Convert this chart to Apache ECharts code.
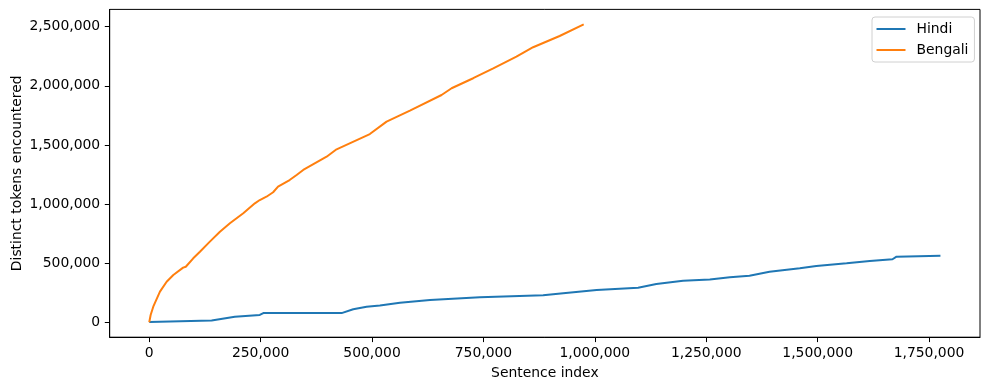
<!DOCTYPE html>
<html>
<head>
<meta charset="utf-8">
<script src="https://cdn.jsdelivr.net/npm/echarts@6/dist/echarts.min.js"></script>
<style>html,body{margin:0;padding:0;background:#fff}#c{width:989px;height:390px}</style>
</head>
<body>
<div id="c"></div>
<script>
const hindiX = [0, 140000, 192000, 248000, 256000, 431700, 457700, 487700, 517600, 562600, 630000, 742000, 884000, 929000, 1004000, 1097000, 1138000, 1198000, 1258000, 1303000, 1347000, 1392000, 1460000, 1497000, 1565000, 1617000, 1668000, 1677000, 1775600];
const hindiY = [3000, 15000, 47000, 62000, 78000, 78000, 110000, 132000, 142000, 166000, 189000, 211000, 228000, 245000, 273000, 293000, 324000, 352000, 362000, 381000, 394000, 428000, 457000, 476000, 499000, 518000, 533000, 555000, 563000];
const bengaliX = [0, 3100, 9000, 24000, 39000, 54000, 76000, 82000, 86000, 98700, 113700, 136000, 158600, 181000, 211000, 237000, 248000, 263000, 278000, 289000, 315000, 330700, 345500, 398000, 420400, 495000, 532600, 585000, 656000, 678500, 727000, 772000, 824000, 861500, 921000, 975000];
const bengaliY = [0, 62000, 132000, 259000, 343000, 400000, 462000, 470000, 478000, 541000, 597000, 682000, 766000, 837000, 922000, 1006000, 1034000, 1062000, 1100000, 1147000, 1203000, 1246000, 1288000, 1400000, 1463000, 1592000, 1697000, 1790000, 1922000, 1979000, 2064000, 2148000, 2246000, 2326000, 2421000, 2520000];
const xTicks = [0, 250000, 500000, 750000, 1000000, 1250000, 1500000, 1750000];
const yTicks = [0, 500000, 1000000, 1500000, 2000000, 2500000];

const pairs = (xs, ys) => xs.map((x, i) => [x, ys[i]]);
const fmt = v => Math.round(v).toString().replace(/\B(?=(\d{3})+(?!\d))/g, ',');
const FONT = 'DejaVu Sans';
const FS = 13.9;

const chart = echarts.init(document.getElementById('c'), null, {renderer: 'canvas'});
chart.setOption({
  animation: false,
  backgroundColor: '#fff',
  grid: {left: 109.7, right: 9, top: 9.4, bottom: 52.8, show: true, borderColor: '#000', borderWidth: 1, containLabel: false, outerBoundsMode: 'none'},
  legend: {
    orient: 'vertical', left: 872, top: 17,
    itemWidth: 29, itemHeight: 14, itemGap: 7,
    padding: [5, 6, 5, 3.5],
    borderColor: '#d0d0d0', borderWidth: 1, borderRadius: 3,
    backgroundColor: 'rgba(255,255,255,0.8)',
    itemStyle: {opacity: 0},
    textStyle: {fontFamily: FONT, fontSize: FS, color: '#000', padding: [0, 0, 0, 6]},
    data: ['Hindi', 'Bengali']
  },
  xAxis: {
    type: 'value', min: -88780, max: 1864380,
    name: 'Sentence index', nameLocation: 'middle', nameGap: 29, nameMoveOverlap: false,
    nameTextStyle: {fontFamily: FONT, fontSize: FS, color: '#000'},
    axisLine: {show: true, onZero: false, lineStyle: {color: '#000', width: 1}},
    splitLine: {show: false},
    axisTick: {show: true, inside: false, customValues: xTicks, length: 4.9, lineStyle: {color: '#000', width: 1}},
    axisLabel: {customValues: xTicks, formatter: fmt, fontFamily: FONT, fontSize: FS, color: '#000', margin: 9.5}
  },
  yAxis: {
    type: 'value', min: -126000, max: 2646000,
    name: 'Distinct tokens encountered', nameLocation: 'middle', nameGap: 85, nameMoveOverlap: false,
    nameTextStyle: {fontFamily: FONT, fontSize: FS, color: '#000'},
    axisLine: {show: true, onZero: false, lineStyle: {color: '#000', width: 1}},
    splitLine: {show: false},
    axisTick: {show: true, inside: false, customValues: yTicks, length: 4.9, lineStyle: {color: '#000', width: 1}},
    axisLabel: {customValues: yTicks, formatter: fmt, fontFamily: FONT, fontSize: FS, color: '#000', margin: 9.5}
  },
  series: [
    {name: 'Hindi', type: 'line', data: pairs(hindiX, hindiY), symbol: 'none', lineStyle: {color: '#1f77b4', width: 2}, itemStyle: {color: '#1f77b4'}},
    {name: 'Bengali', type: 'line', data: pairs(bengaliX, bengaliY), symbol: 'none', lineStyle: {color: '#ff7f0e', width: 2}, itemStyle: {color: '#ff7f0e'}}
  ]
});
</script>
</body>
</html>
